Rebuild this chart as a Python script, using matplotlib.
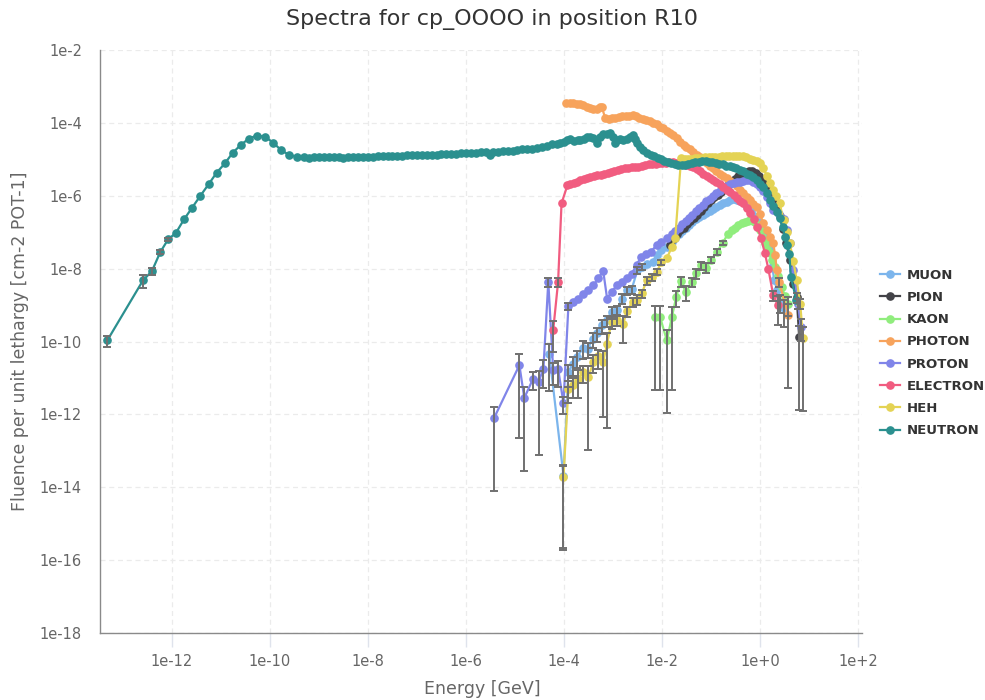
import numpy as np
import matplotlib
matplotlib.use("Agg")
import matplotlib.pyplot as plt
from matplotlib.ticker import FixedLocator, FuncFormatter, NullLocator
from matplotlib.lines import Line2D

plt.rcParams["font.family"] = ["DejaVu Sans"]

TITLE = "Spectra for cp_OOOO in position R10"
X_LABEL = "Energy [GeV]"
Y_LABEL = "Fluence per unit lethargy [cm-2 POT-1]"

x_tick_exps = [-12, -10, -8, -6, -4, -2, 0, 2]
y_tick_exps = [-18, -16, -14, -12, -10, -8, -6, -4, -2]

# log10(energy / GeV) and log10(fluence) for every particle family
muon_loge = [-4.30, -4.01, -3.91, -3.82, -3.73, -3.62, -3.52, -3.41, -3.32, -3.23,
             -3.13, -3.03, -2.92, -2.82, -2.72, -2.62, -2.50, -2.40, -2.30, -2.19,
             -2.11, -2.01, -1.90, -1.80, -1.73, -1.66, -1.59, -1.52, -1.45, -1.38,
             -1.31, -1.24, -1.17, -1.10, -1.03, -0.96, -0.89, -0.82, -0.75, -0.68,
             -0.61, -0.54, -0.47, -0.40, -0.33, -0.26, -0.19, -0.12, -0.05, 0.02,
             0.09, 0.16, 0.21, 0.25, 0.29, 0.35, 0.41, 0.48]
muon_logf = [-10.35, -13.68, -10.84, -10.61, -10.43, -10.17, -10.20, -9.92, -9.78, -9.56,
             -9.42, -9.19, -9.14, -8.82, -8.59, -8.57, -8.04, -7.95, -7.86, -7.82,
             -7.63, -7.49, -7.40, -7.27, -7.15, -7.05, -6.97, -6.88, -6.80, -6.72,
             -6.65, -6.59, -6.53, -6.47, -6.41, -6.35, -6.30, -6.25, -6.21, -6.17,
             -6.13, -6.10, -6.11, -6.15, -6.21, -6.30, -6.42, -6.55, -6.72, -6.88,
             -7.05, -7.28, -7.50, -7.95, -8.30, -8.60, -8.91, -9.08]
muon_err = {-4.30: 0.9, -4.01: 0.99, -3.91: 0.6, -3.82: 0.55, -3.73: 0.5, -3.62: 0.5,
            -3.52: 0.45, -3.41: 0.45, -3.32: 0.4, -3.23: 0.4, -3.13: 0.35, -3.03: 0.35,
            -2.92: 0.3, -2.82: 0.3, -2.72: 0.25, -2.62: 0.25, -2.50: 0.2, -2.40: 0.2,
            0.41: 0.5, 0.48: 0.7}

pion_loge = [-1.84, -1.77, -1.70, -1.63, -1.56, -1.49, -1.42, -1.35, -1.28, -1.21,
             -1.14, -1.07, -1.00, -0.93, -0.86, -0.79, -0.72, -0.65, -0.58, -0.51,
             -0.44, -0.37, -0.30, -0.23, -0.16, -0.09, -0.02, 0.05, 0.12, 0.19,
             0.26, 0.33, 0.40, 0.47, 0.54, 0.61, 0.68, 0.75, 0.80]
pion_logf = [-7.35, -7.20, -7.06, -6.95, -6.88, -6.78, -6.70, -6.62, -6.52, -6.42,
             -6.30, -6.20, -6.12, -6.04, -5.98, -5.90, -5.80, -5.70, -5.62, -5.53,
             -5.45, -5.39, -5.35, -5.33, -5.33, -5.37, -5.45, -5.56, -5.70, -5.88,
             -6.08, -6.28, -6.55, -6.90, -7.30, -7.77, -8.41, -8.78, -9.88]
pion_err = {0.75: 0.3, 0.80: 0.99}

kaon_loge = [-2.14, -2.04, -1.90, -1.80, -1.71, -1.62, -1.51, -1.39, -1.31, -1.21,
             -1.10, -0.99, -0.88, -0.76, -0.65, -0.58, -0.51, -0.44, -0.37, -0.31,
             -0.25, -0.20, -0.15, -0.10, -0.05, 0.00, 0.05, 0.10, 0.15, 0.20,
             0.25, 0.31, 0.37, 0.44, 0.51, 0.58]
kaon_logf = [-9.33, -9.33, -9.97, -9.34, -8.78, -8.34, -8.64, -8.36, -8.12, -7.91,
             -7.97, -7.75, -7.54, -7.29, -7.04, -6.95, -6.88, -6.81, -6.76, -6.72,
             -6.69, -6.67, -6.68, -6.72, -6.82, -6.95, -7.12, -7.31, -7.45, -7.58,
             -7.75, -7.95, -8.20, -8.50, -8.75, -8.96]
kaon_err = {-2.14: 0.99, -2.04: 0.99, -1.90: 0.99, -1.80: 0.99, -1.71: 0.45,
            -1.62: 0.3, -1.51: 0.45, -1.39: 0.3, -1.31: 0.3, -1.21: 0.25,
            -1.10: 0.3, -0.99: 0.2, -0.88: 0.2, -0.76: 0.15, 0.58: 0.55}

photon_loge = [-3.95, -3.88, -3.81, -3.74, -3.67, -3.61, -3.54, -3.47, -3.40, -3.33,
               -3.27, -3.23, -3.16, -3.09, -3.02, -2.95, -2.88, -2.81, -2.74, -2.67,
               -2.60, -2.53, -2.46, -2.39, -2.32, -2.25, -2.18, -2.11, -2.04, -1.97,
               -1.90, -1.84, -1.77, -1.70, -1.63, -1.56, -1.50, -1.43, -1.36, -1.29,
               -1.22, -1.16, -1.09, -1.02, -0.95, -0.89, -0.82, -0.75, -0.68, -0.61,
               -0.54, -0.47, -0.40, -0.34, -0.27, -0.20, -0.14, -0.07, 0.00, 0.07,
               0.14, 0.20, 0.27, 0.31, 0.34, 0.39, 0.58]
photon_logf = [-3.46, -3.45, -3.46, -3.47, -3.48, -3.52, -3.56, -3.60, -3.63, -3.61,
               -3.57, -3.56, -3.86, -3.88, -3.87, -3.86, -3.84, -3.82, -3.81, -3.80,
               -3.79, -3.82, -3.86, -3.89, -3.91, -3.94, -3.99, -4.04, -4.10, -4.15,
               -4.21, -4.27, -4.34, -4.42, -4.52, -4.60, -4.66, -4.72, -4.79, -4.87,
               -4.95, -5.03, -5.11, -5.18, -5.25, -5.32, -5.39, -5.45, -5.52, -5.59,
               -5.66, -5.74, -5.84, -5.93, -6.03, -6.13, -6.22, -6.30, -6.50, -6.76,
               -6.95, -7.13, -7.31, -7.63, -8.04, -8.36, -9.28]
photon_err = {0.39: 0.3, 0.58: 0.99}

proton_loge = [-5.43, -4.91, -4.81, -4.63, -4.52, -4.42, -4.32, -4.22, -4.12, -4.01,
               -3.91, -3.81, -3.71, -3.61, -3.50, -3.40, -3.30, -3.20, -3.12, -3.03,
               -2.92, -2.82, -2.72, -2.62, -2.52, -2.43, -2.33, -2.23, -2.11, -2.01,
               -1.90, -1.80, -1.73, -1.66, -1.59, -1.52, -1.45, -1.38, -1.31, -1.24,
               -1.17, -1.10, -1.03, -0.96, -0.89, -0.82, -0.75, -0.68, -0.61, -0.54,
               -0.47, -0.41, -0.34, -0.27, -0.20, -0.14, -0.07, 0.00, 0.07, 0.14,
               0.20, 0.27, 0.38, 0.48, 0.55, 0.61, 0.68, 0.78, 0.83]
proton_logf = [-12.11, -10.65, -11.55, -11.02, -11.11, -10.75, -8.36, -10.79, -10.75, -11.69,
               -9.03, -8.91, -8.82, -8.69, -8.59, -8.46, -8.27, -8.06, -8.82, -8.64,
               -8.46, -8.36, -8.27, -8.14, -7.91, -7.68, -7.59, -7.54, -7.36, -7.27,
               -7.17, -7.04, -6.97, -6.88, -6.78, -6.70, -6.62, -6.52, -6.42, -6.33,
               -6.25, -6.15, -6.08, -6.01, -5.93, -5.86, -5.79, -5.74, -5.69, -5.66,
               -5.63, -5.61, -5.59, -5.57, -5.58, -5.62, -5.67, -5.75, -5.87, -6.03,
               -6.20, -6.40, -6.50, -6.65, -6.95, -7.31, -8.04, -8.96, -9.60]
proton_err = {-5.43: 0.99, -4.91: 0.99, -4.81: 0.99, -4.63: 0.5, -4.52: 0.99,
              -4.42: 0.7, -4.32: 0.3, -4.22: 0.6, -4.12: 0.68, -4.01: 0.5,
              -3.91: 0.2, 0.78: 0.3, 0.83: 0.6}

electron_loge = [-4.22, -4.12, -4.05, -3.93, -3.87, -3.80, -3.73, -3.67, -3.60, -3.53,
                 -3.46, -3.39, -3.32, -3.25, -3.18, -3.11, -3.04, -2.97, -2.90, -2.83,
                 -2.76, -2.69, -2.62, -2.55, -2.48, -2.41, -2.34, -2.27, -2.20, -2.13,
                 -2.06, -1.99, -1.92, -1.85, -1.78, -1.71, -1.64, -1.57, -1.50, -1.43,
                 -1.36, -1.29, -1.22, -1.16, -1.09, -1.02, -0.95, -0.89, -0.82, -0.75,
                 -0.68, -0.61, -0.54, -0.47, -0.40, -0.34, -0.27, -0.20, -0.13, -0.06,
                 0.02, 0.10, 0.17, 0.27, 0.37]
electron_logf = [-9.69, -8.36, -6.21, -5.71, -5.68, -5.65, -5.62, -5.57, -5.54, -5.51,
                 -5.48, -5.45, -5.43, -5.42, -5.40, -5.37, -5.34, -5.31, -5.29, -5.27,
                 -5.25, -5.23, -5.22, -5.21, -5.20, -5.18, -5.16, -5.14, -5.13, -5.12,
                 -5.11, -5.10, -5.09, -5.08, -5.08, -5.09, -5.10, -5.11, -5.16, -5.18,
                 -5.20, -5.27, -5.33, -5.39, -5.45, -5.51, -5.57, -5.63, -5.69, -5.75,
                 -5.83, -5.90, -5.98, -6.06, -6.14, -6.21, -6.33, -6.47, -6.63, -6.85,
                 -7.15, -7.58, -8.00, -8.73, -9.00]
electron_err = {-4.22: 0.75, -4.12: 0.3, 0.27: 0.3, 0.37: 0.72}

heh_loge = [-4.01, -3.91, -3.81, -3.71, -3.61, -3.50, -3.40, -3.30, -3.20, -3.12,
            -3.03, -2.91, -2.80, -2.71, -2.60, -2.50, -2.41, -2.31, -2.21, -2.11,
            -2.01, -1.90, -1.80, -1.73, -1.61, -1.54, -1.47, -1.40, -1.33, -1.26,
            -1.19, -1.12, -1.05, -0.98, -0.91, -0.84, -0.77, -0.70, -0.63, -0.56,
            -0.49, -0.42, -0.35, -0.28, -0.21, -0.14, -0.07, 0.00, 0.07, 0.14,
            0.21, 0.27, 0.33, 0.40, 0.48, 0.55, 0.61, 0.68, 0.75, 0.82, 0.88]
heh_logf = [-13.72, -11.29, -11.20, -11.02, -10.84, -10.97, -10.56, -10.41, -10.56, -10.06,
            -9.46, -9.40, -9.53, -9.16, -8.91, -8.85, -8.67, -8.32, -8.23, -8.09,
            -7.82, -7.72, -7.40, -7.17, -4.97, -4.98, -4.98, -4.98, -4.97, -4.96,
            -4.96, -4.95, -4.94, -4.94, -4.93, -4.93, -4.92, -4.92, -4.91, -4.91,
            -4.91, -4.91, -4.92, -4.94, -4.98, -5.02, -5.06, -5.11, -5.25, -5.45,
            -5.65, -5.85, -6.00, -6.20, -6.67, -7.00, -7.31, -7.80, -8.32, -8.96, -9.90]
heh_err = {-4.01: 0.99, -3.91: 0.6, -3.81: 0.55, -3.71: 0.7, -3.61: 0.5, -3.50: 0.99,
           -3.40: 0.5, -3.30: 0.55, -3.20: 0.97, -3.12: 0.995, -3.03: 0.35, -2.91: 0.35,
           -2.80: 0.7, -2.71: 0.3, -2.60: 0.3, -2.50: 0.3, -2.41: 0.25, -2.31: 0.25,
           -2.21: 0.2, -2.11: 0.2, -2.01: 0.15, 0.82: 0.3, 0.88: 0.99}

neutron_loge = [-13.32, -12.59, -12.41, -12.24, -12.08, -11.92, -11.75, -11.59, -11.42, -11.25,
                -11.09, -10.92, -10.76, -10.60, -10.43, -10.27, -10.10, -9.94, -9.77, -9.61,
                -9.44, -9.30, -9.20, -9.10, -9.00, -8.90, -8.80, -8.70, -8.60, -8.50,
                -8.40, -8.30, -8.20, -8.10, -8.00, -7.90, -7.80, -7.70, -7.60, -7.50,
                -7.40, -7.30, -7.20, -7.10, -7.00, -6.90, -6.80, -6.70, -6.60, -6.50,
                -6.40, -6.30, -6.20, -6.10, -6.00, -5.90, -5.80, -5.70, -5.60, -5.51,
                -5.45, -5.35, -5.25, -5.15, -5.05, -4.95, -4.85, -4.75, -4.65, -4.55,
                -4.45, -4.35, -4.25, -4.15, -4.08, -4.00, -3.93, -3.88, -3.80, -3.72,
                -3.67, -3.60, -3.53, -3.47, -3.40, -3.33, -3.27, -3.20, -3.13, -3.06,
                -3.00, -2.96, -2.91, -2.86, -2.79, -2.72, -2.66, -2.60, -2.55, -2.52,
                -2.45, -2.38, -2.30, -2.23, -2.16, -2.09, -2.02, -1.95, -1.88, -1.81,
                -1.74, -1.67, -1.60, -1.53, -1.46, -1.39, -1.32, -1.25, -1.18, -1.11,
                -1.04, -0.97, -0.90, -0.83, -0.76, -0.69, -0.62, -0.55, -0.48, -0.41,
                -0.34, -0.27, -0.20, -0.14, -0.07, 0.00, 0.07, 0.14, 0.20, 0.27,
                0.34, 0.40, 0.46, 0.51, 0.56, 0.60, 0.63, 0.74]
neutron_logf = [-9.97, -8.32, -8.07, -7.55, -7.20, -7.02, -6.64, -6.33, -6.00, -5.68,
                -5.37, -5.11, -4.82, -4.61, -4.43, -4.35, -4.38, -4.54, -4.75, -4.88,
                -4.93, -4.95, -4.96, -4.95, -4.95, -4.95, -4.95, -4.94, -4.95, -4.96,
                -4.95, -4.94, -4.94, -4.93, -4.93, -4.93, -4.92, -4.92, -4.91, -4.91,
                -4.90, -4.90, -4.89, -4.89, -4.89, -4.88, -4.88, -4.87, -4.87, -4.86,
                -4.86, -4.85, -4.85, -4.84, -4.83, -4.83, -4.82, -4.81, -4.80, -4.87,
                -4.80, -4.79, -4.78, -4.77, -4.76, -4.75, -4.73, -4.72, -4.71, -4.69,
                -4.67, -4.63, -4.59, -4.57, -4.55, -4.52, -4.47, -4.45, -4.49, -4.47,
                -4.47, -4.43, -4.40, -4.38, -4.42, -4.56, -4.40, -4.31, -4.30, -4.29,
                -4.40, -4.56, -4.47, -4.43, -4.46, -4.45, -4.40, -4.34, -4.45, -4.56,
                -4.66, -4.75, -4.82, -4.87, -4.92, -4.96, -5.00, -5.04, -5.07, -5.10,
                -5.13, -5.15, -5.16, -5.16, -5.14, -5.11, -5.08, -5.07, -5.06, -5.06,
                -5.07, -5.08, -5.10, -5.12, -5.14, -5.17, -5.19, -5.21, -5.24, -5.28,
                -5.33, -5.39, -5.44, -5.48, -5.58, -5.68, -5.75, -5.92, -6.12, -6.28,
                -6.45, -6.62, -6.85, -7.13, -7.35, -7.60, -8.23, -8.85]
neutron_err = {-13.32: 0.35, -12.59: 0.4, -12.41: 0.2, -12.24: 0.12, -12.08: 0.1}

series = [
    ("MUON", "#7cb5ec", muon_loge, muon_logf, muon_err),
    ("PION", "#434348", pion_loge, pion_logf, pion_err),
    ("KAON", "#90ed7d", kaon_loge, kaon_logf, kaon_err),
    ("PHOTON", "#f7a35c", photon_loge, photon_logf, photon_err),
    ("PROTON", "#8085e9", proton_loge, proton_logf, proton_err),
    ("ELECTRON", "#f15c80", electron_loge, electron_logf, electron_err),
    ("HEH", "#e4d354", heh_loge, heh_logf, heh_err),
    ("NEUTRON", "#2b908f", neutron_loge, neutron_logf, neutron_err),
]

W, H = 985, 700
fig = plt.figure(figsize=(W / 100, H / 100), dpi=100)
fig.patch.set_facecolor("white")
ax = fig.add_axes([100 / W, 1 - 633 / H, (862 - 100) / W, (633 - 50) / H])

ax.set_xscale("log")
ax.set_yscale("log")
ax.set_xlim(10 ** -13.469, 10 ** 2.082)
ax.set_ylim(1e-18, 1e-2)

handles = []
for i, (name, color, loge, logf, errs) in enumerate(series):
    assert len(loge) == len(logf), name
    e = 10.0 ** np.asarray(loge)
    f = 10.0 ** np.asarray(logf)
    ax.plot(e, f, color=color, lw=1.6, marker="o", ms=5.2, mec=color, mfc=color,
            zorder=3 + i, solid_joinstyle="round")
    if errs:
        idx = [int(np.argmin(np.abs(np.asarray(loge) - k))) for k in errs]
        rel = np.array(list(errs.values()))
        ee = e[idx]
        ff = f[idx]
        ax.errorbar(ee, ff, yerr=[ff * rel, ff * rel], fmt="none", ecolor="#707070",
                    elinewidth=1.4, capsize=3, capthick=1.4, zorder=20)
    handles.append(Line2D([0], [0], color=color, lw=1.6, marker="o", ms=5.2,
                          mec=color, mfc=color, label=name))

# axes cosmetics
for side in ("top", "right"):
    ax.spines[side].set_visible(False)
for side in ("left", "bottom"):
    ax.spines[side].set_color("#8a8a8a")
    ax.spines[side].set_linewidth(1.0)

ax.xaxis.set_major_locator(FixedLocator([10.0 ** k for k in x_tick_exps]))
ax.yaxis.set_major_locator(FixedLocator([10.0 ** k for k in y_tick_exps]))
ax.xaxis.set_minor_locator(NullLocator())
ax.yaxis.set_minor_locator(NullLocator())
fmt = FuncFormatter(lambda v, _: f"1e{int(round(np.log10(v))):+d}")
ax.xaxis.set_major_formatter(fmt)
ax.yaxis.set_major_formatter(fmt)
ax.tick_params(axis="x", length=10, width=1, color="#dfe3ec", labelsize=10.5,
               labelcolor="#666666", pad=5)
ax.tick_params(axis="y", length=0, labelsize=10.5, labelcolor="#666666", pad=13)
ax.grid(True, which="major", color="#ebebeb", linestyle=(0, (4, 3)), linewidth=0.9)
ax.set_axisbelow(True)

fig.text(492 / W, 1 - 19 / H, TITLE, ha="center", va="center", fontsize=16, color="#333333")
fig.text(482 / W, 1 - 689 / H, X_LABEL, ha="center", va="center", fontsize=12.5, color="#666666")
fig.text(20 / W, 1 - 341 / H, Y_LABEL, ha="center", va="center", rotation=90,
         fontsize=12.5, color="#666666")

leg = fig.legend(handles=handles, loc="center left", bbox_to_anchor=(880 / W, 1 - 353 / H),
                 frameon=False, handlelength=1.5, handletextpad=0.5, labelspacing=0.7,
                 prop={"weight": "bold", "size": 9.5}, borderaxespad=0, borderpad=0)
for t in leg.get_texts():
    t.set_color("#333333")

fig.savefig("out.png", dpi=100, facecolor="white")
